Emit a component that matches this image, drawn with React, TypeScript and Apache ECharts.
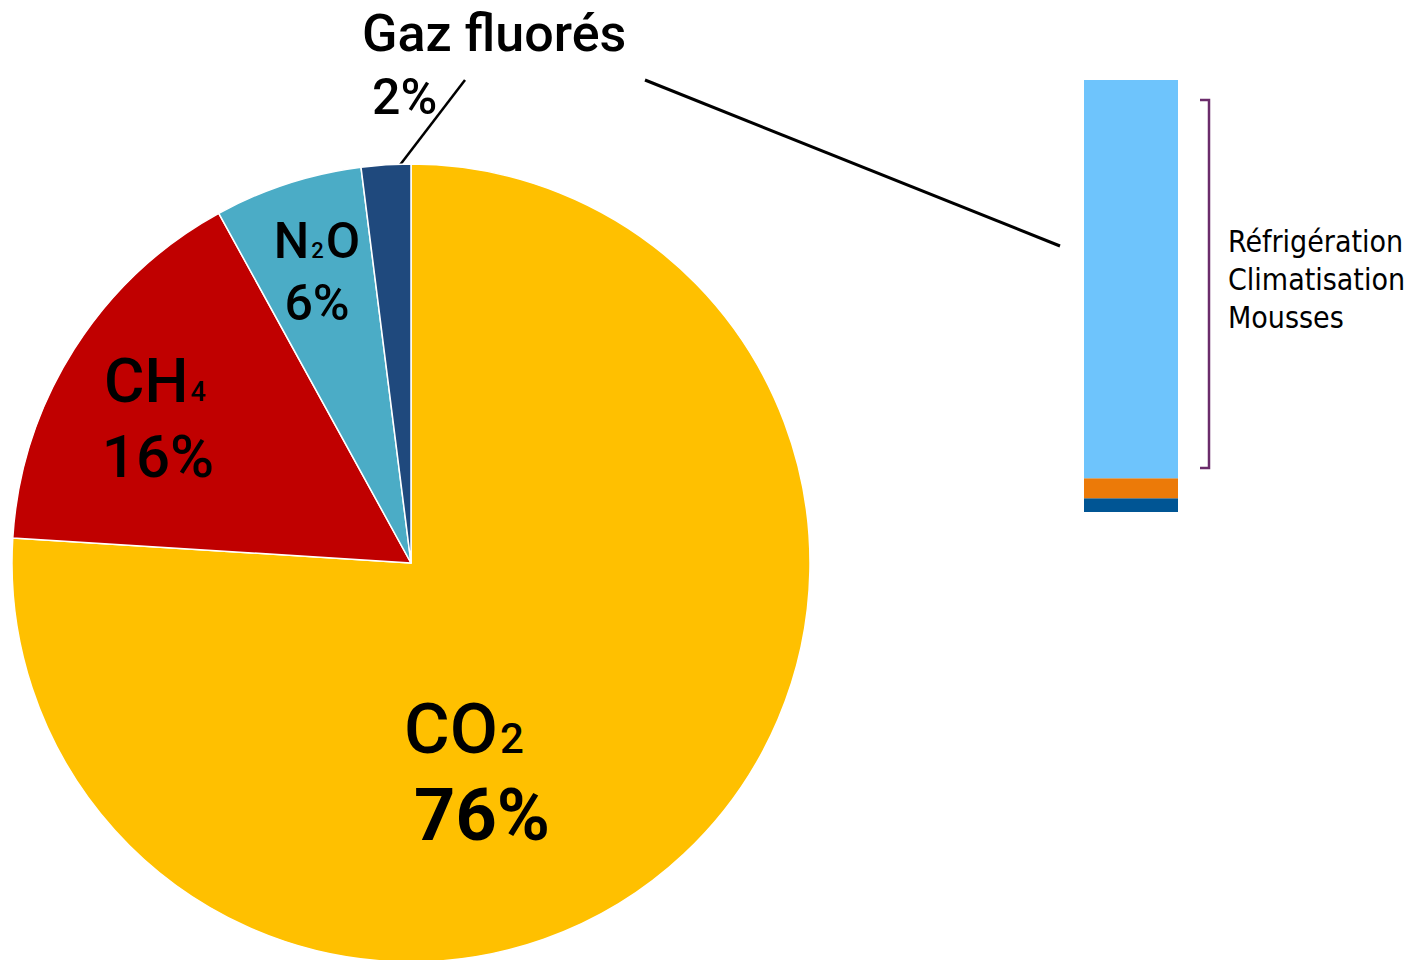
import React, { useEffect, useRef } from 'react';
import * as echarts from 'echarts';

// Main pie: share of greenhouse gases
const GAS_NAMES = ['CO2', 'CH4', 'N2O', 'Gaz fluorés'];
const GAS_SHARES = [76, 16, 6, 2];
const GAS_COLORS = ['#FFC000', '#C00000', '#4BACC6', '#1F497D'];

// Breakdown bar of fluorinated gases (bottom to top)
const FGAS_CATEGORY = ['Gaz fluorés'];
const FGAS_NAMES = ['SF6', 'PFC', 'HFC'];
const FGAS_SHARES = [3.2, 4.6, 92.2];
const FGAS_COLORS = ['#005594', '#EC7A08', '#6EC4FC'];
const HFC_USES = ['Réfrigération', 'Climatisation', 'Mousses'];

const MAIN_FONT = 'Roboto, "Noto Sans", sans-serif';
const SIDE_FONT = '"DejaVu Sans Condensed", "DejaVu Sans", sans-serif';

const LABEL_STYLE = [
  { name: 70, nameWeight: 500, sub: 42, pct: 72, pctWeight: 'bold', lh: 86, pad: 34, x: 465, y: 772, align: 'center' },
  { name: 62, nameWeight: 500, sub: 27, pct: 60, pctWeight: 500, lh: 76, pad: 4, x: 156, y: 418, align: 'center' },
  { name: 50, nameWeight: 500, sub: 22, pct: 50, pctWeight: 500, lh: 62, pad: 0, x: 317, y: 272, align: 'center' },
  { name: 52, nameWeight: 500, sub: 22, pct: 50, pctWeight: 500, lh: 64, pad: 10, x: 362, y: 65, align: 'left' },
];

// Turn digits in a chemical formula into subscript rich tokens
function formulaTokens(n: string) {
  return n
    .split(/(\d)/)
    .filter((t) => t.length > 0)
    .map((t) => (/^\d$/.test(t) ? `{s|${t}}` : `{n|${t}}`))
    .join('');
}

export default function App() {
  const ref = useRef<HTMLDivElement>(null);
  useEffect(() => {
    if (!ref.current) return;
    const chart = echarts.init(ref.current, undefined, { renderer: 'svg' });

    const pieData = GAS_NAMES.map((name, i) => {
      const s = LABEL_STYLE[i];
      return {
        name,
        value: GAS_SHARES[i],
        itemStyle: { color: GAS_COLORS[i] },
        label: {
          rich: {
            n: { fontSize: s.name, fontWeight: s.nameWeight, fontFamily: MAIN_FONT, color: '#000', lineHeight: s.lh },
            s: {
              fontSize: s.sub, fontWeight: s.nameWeight, fontFamily: MAIN_FONT, color: '#000',
              padding: [Math.round(0.68 * (s.name - s.sub)), 2, 0, 2],
            },
            p: {
              fontSize: s.pct, fontWeight: s.pctWeight, fontFamily: MAIN_FONT, color: '#000',
              lineHeight: s.lh, padding: [0, 0, 0, s.pad],
            },
          },
        },
      };
    });

    const barSeries = FGAS_NAMES.map((name, i) => ({
      name,
      type: 'bar',
      stack: 'fgas',
      xAxisIndex: 0,
      yAxisIndex: 0,
      barWidth: '100%',
      data: [FGAS_SHARES[i]],
      itemStyle: { color: FGAS_COLORS[i] },
      silent: true,
    }));

    chart.setOption({
      animation: false,
      backgroundColor: '#ffffff',
      grid: { left: 1084, top: 80, width: 94, height: 432 },
      xAxis: { type: 'category', data: FGAS_CATEGORY, show: false },
      yAxis: { type: 'value', min: 0, max: 100, show: false },
      series: [
        {
          type: 'pie',
          center: [411, 563],
          radius: 399,
          startAngle: 90,
          clockwise: true,
          avoidLabelOverlap: false,
          itemStyle: { borderColor: '#ffffff', borderWidth: 1.5 },
          label: {
            show: true,
            position: 'inside',
            color: '#000',
            formatter: (p: any) => `${formulaTokens(p.name)}\n{p|${p.value}%}`,
          },
          labelLine: { show: false },
          labelLayout: (p: any) => {
            const s = LABEL_STYLE[p.dataIndex];
            return { x: s.x, y: s.y, align: s.align, verticalAlign: 'middle' };
          },
          emphasis: { disabled: true },
          data: pieData,
        },
        ...barSeries,
      ],
      graphic: [
        {
          type: 'line',
          shape: { x1: 465, y1: 80, x2: 390, y2: 178 },
          style: { stroke: '#000', lineWidth: 2.5 },
          silent: true,
        },
        {
          type: 'line',
          shape: { x1: 645, y1: 80, x2: 1060, y2: 246 },
          style: { stroke: '#000', lineWidth: 3 },
          silent: true,
        },
        {
          type: 'polyline',
          shape: { points: [[1200, 100], [1209, 100], [1209, 468], [1200, 468]] },
          style: { stroke: '#6B2C6B', lineWidth: 2.5, fill: 'none' },
          silent: true,
        },
        {
          type: 'text',
          left: 1228,
          top: 222,
          style: {
            text: HFC_USES.join('\n'),
            fontSize: 30,
            lineHeight: 38,
            fontFamily: SIDE_FONT,
            fill: '#000',
          },
          silent: true,
        },
      ],
    });
    return () => chart.dispose();
  }, []);
  return (
    <div
      ref={ref}
      style={{ position: 'absolute', left: 0, top: 0, width: 1412, height: 960 }}
    />
  );
}
